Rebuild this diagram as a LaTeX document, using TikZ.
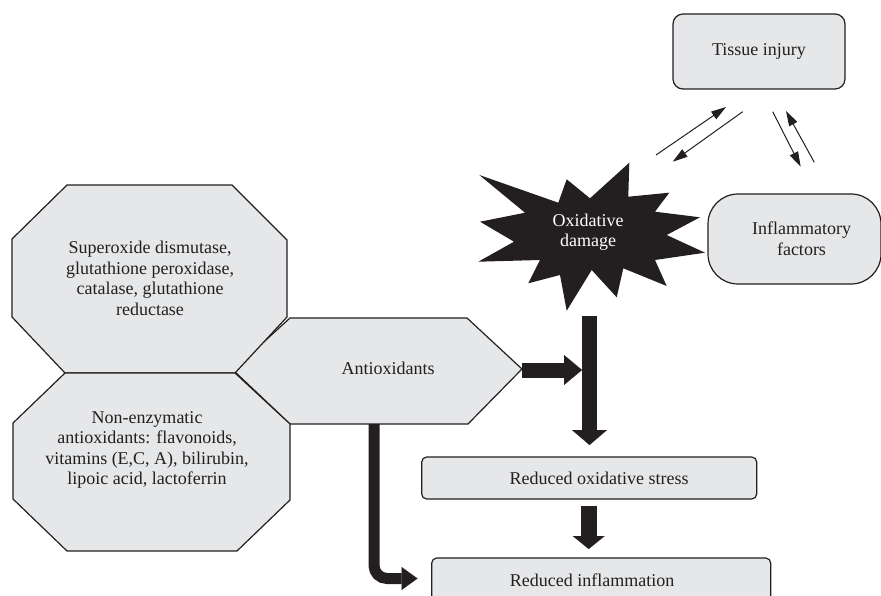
\documentclass[tikz,border=0pt]{standalone}
\usepackage{fontspec}
\setmainfont{Liberation Serif}
\usetikzlibrary{arrows.meta}
\definecolor{ink}{HTML}{231F20}
\definecolor{boxfill}{HTML}{E6E7E8}
\begin{document}
\begin{tikzpicture}[x=1pt,y=-1pt,
  every node/.style={font=\fontsize{18}{20.5}\selectfont, text=ink},
  shapeline/.style={draw=ink, line width=1.2pt, fill=boxfill, line join=miter},
  roundbox/.style={shapeline, rectangle, inner sep=0pt},
  thinarrow/.style={draw=ink, line width=1pt, -{Triangle[length=15pt,width=9pt]}},
  fatarrow/.style={draw=ink, line cap=butt}
]
\useasboundingbox (0,0) rectangle (881,596);
\clip (0,0) rectangle (881,596);

% Antioxidants hexagon (behind the octagons)
\draw[shapeline] (290,318) -- (467,318) -- (522,369) -- (468,424) -- (290,424) -- (233,370) -- cycle;
\node (anti) at (388,368) {Antioxidants};

% enzymatic octagon
\draw[shapeline] (67,185) -- (232,185) -- (287,240) -- (287,317) -- (235,373) -- (65,373) -- (12,317) -- (12,239) -- cycle;
\node[align=center] (enz) at (150,278.5) {Superoxide dismutase,\\glutathione peroxidase,\\catalase, glutathione\\reductase};

% non-enzymatic octagon
\draw[shapeline] (65,373) -- (235,373) -- (290,424) -- (290,500) -- (237,551) -- (67,551) -- (13,499) -- (13,423) -- cycle;
\node[align=center] (nonenz) at (147,450) {Non-enzymatic\\antioxidants: flavonoids,\\vitamins (E,C, A), bilirubin,\\lipoic acid, lactoferrin};

% Oxidative damage star
\fill[ink] (479.3,175) -- (558.3,202.7) -- (566.7,179.3) -- (590,198.3) -- (629.3,162.7) -- (628.3,196.7)
  -- (669.3,192.7) -- (655,211.7) -- (700,217.3) -- (666.7,235) -- (705,252.7) -- (655,260)
  -- (666.7,286) -- (623.3,268.3) -- (616.7,297.3) -- (591.7,270) -- (566.7,310.7) -- (560,275)
  -- (528.3,283.3) -- (540,260) -- (478.3,261.7) -- (514,241.7) -- (480,221.7) -- (525,212.7) -- cycle;
\node[align=center, text=white] (ox) at (588,232) {Oxidative\\damage};

% Tissue injury and inflammatory factors
\node[roundbox, rounded corners=10pt, minimum width=172pt, minimum height=75pt] (tis) at (759,51.5) {Tissue injury};
\node[roundbox, rounded corners=30pt, minimum width=173pt, minimum height=90pt, align=center] (inf) at (794.5,239)
  {\rule{14pt}{0pt}Inflammatory\\\rule{14pt}{0pt}factors};

% outcome boxes
\node[roundbox, rounded corners=5pt, minimum width=335pt, minimum height=42pt] (ros) at (589.2,478) {\rule{20pt}{0pt}Reduced oxidative stress};
\node[roundbox, rounded corners=5pt, minimum width=339pt, minimum height=44pt] (ri) at (601.2,580) {Reduced inflammation\rule{18pt}{0pt}};

% thin arrows around tissue injury
\coordinate (a1s) at (656,155);   \coordinate (a1e) at (726,107);
\coordinate (a2s) at (742.7,111.7); \coordinate (a2e) at (672.7,161.7);
\coordinate (a3s) at (772.7,111.7); \coordinate (a3e) at (800.7,166.7);
\coordinate (a4s) at (814.3,162.3); \coordinate (a4e) at (786,111);
\draw[thinarrow] (a1s) -- (a1e);
\draw[thinarrow] (a2s) -- (a2e);
\draw[thinarrow] (a3s) -- (a3e);
\draw[thinarrow] (a4s) -- (a4e);

% thick arrows
\coordinate (hexE) at (522,370);
\coordinate (barhit) at (582,370);
\coordinate (bartop) at (589.5,316);
\coordinate (barend) at (589.5,445);
\coordinate (midtop) at (588.7,506);
\coordinate (midend) at (588.7,549);
\coordinate (hexS) at (374,424);
\coordinate (elbowend) at (417.5,578.5);

\draw[fatarrow, line width=15pt, -{Triangle[length=18pt,width=30pt,line width=0.1pt]}] (hexE) -- (barhit);
\draw[fatarrow, line width=15pt, -{Triangle[length=15pt,width=35pt,line width=0.1pt]}] (bartop) -- (barend);
\draw[fatarrow, line width=16pt, -{Triangle[length=13pt,width=32pt,line width=0.1pt]}] (midtop) -- (midend);
\draw[fatarrow, line width=11pt, rounded corners=13pt, -{Triangle[length=16pt,width=23pt,line width=0.1pt]}] (hexS) |- (elbowend);
\end{tikzpicture}
\end{document}
